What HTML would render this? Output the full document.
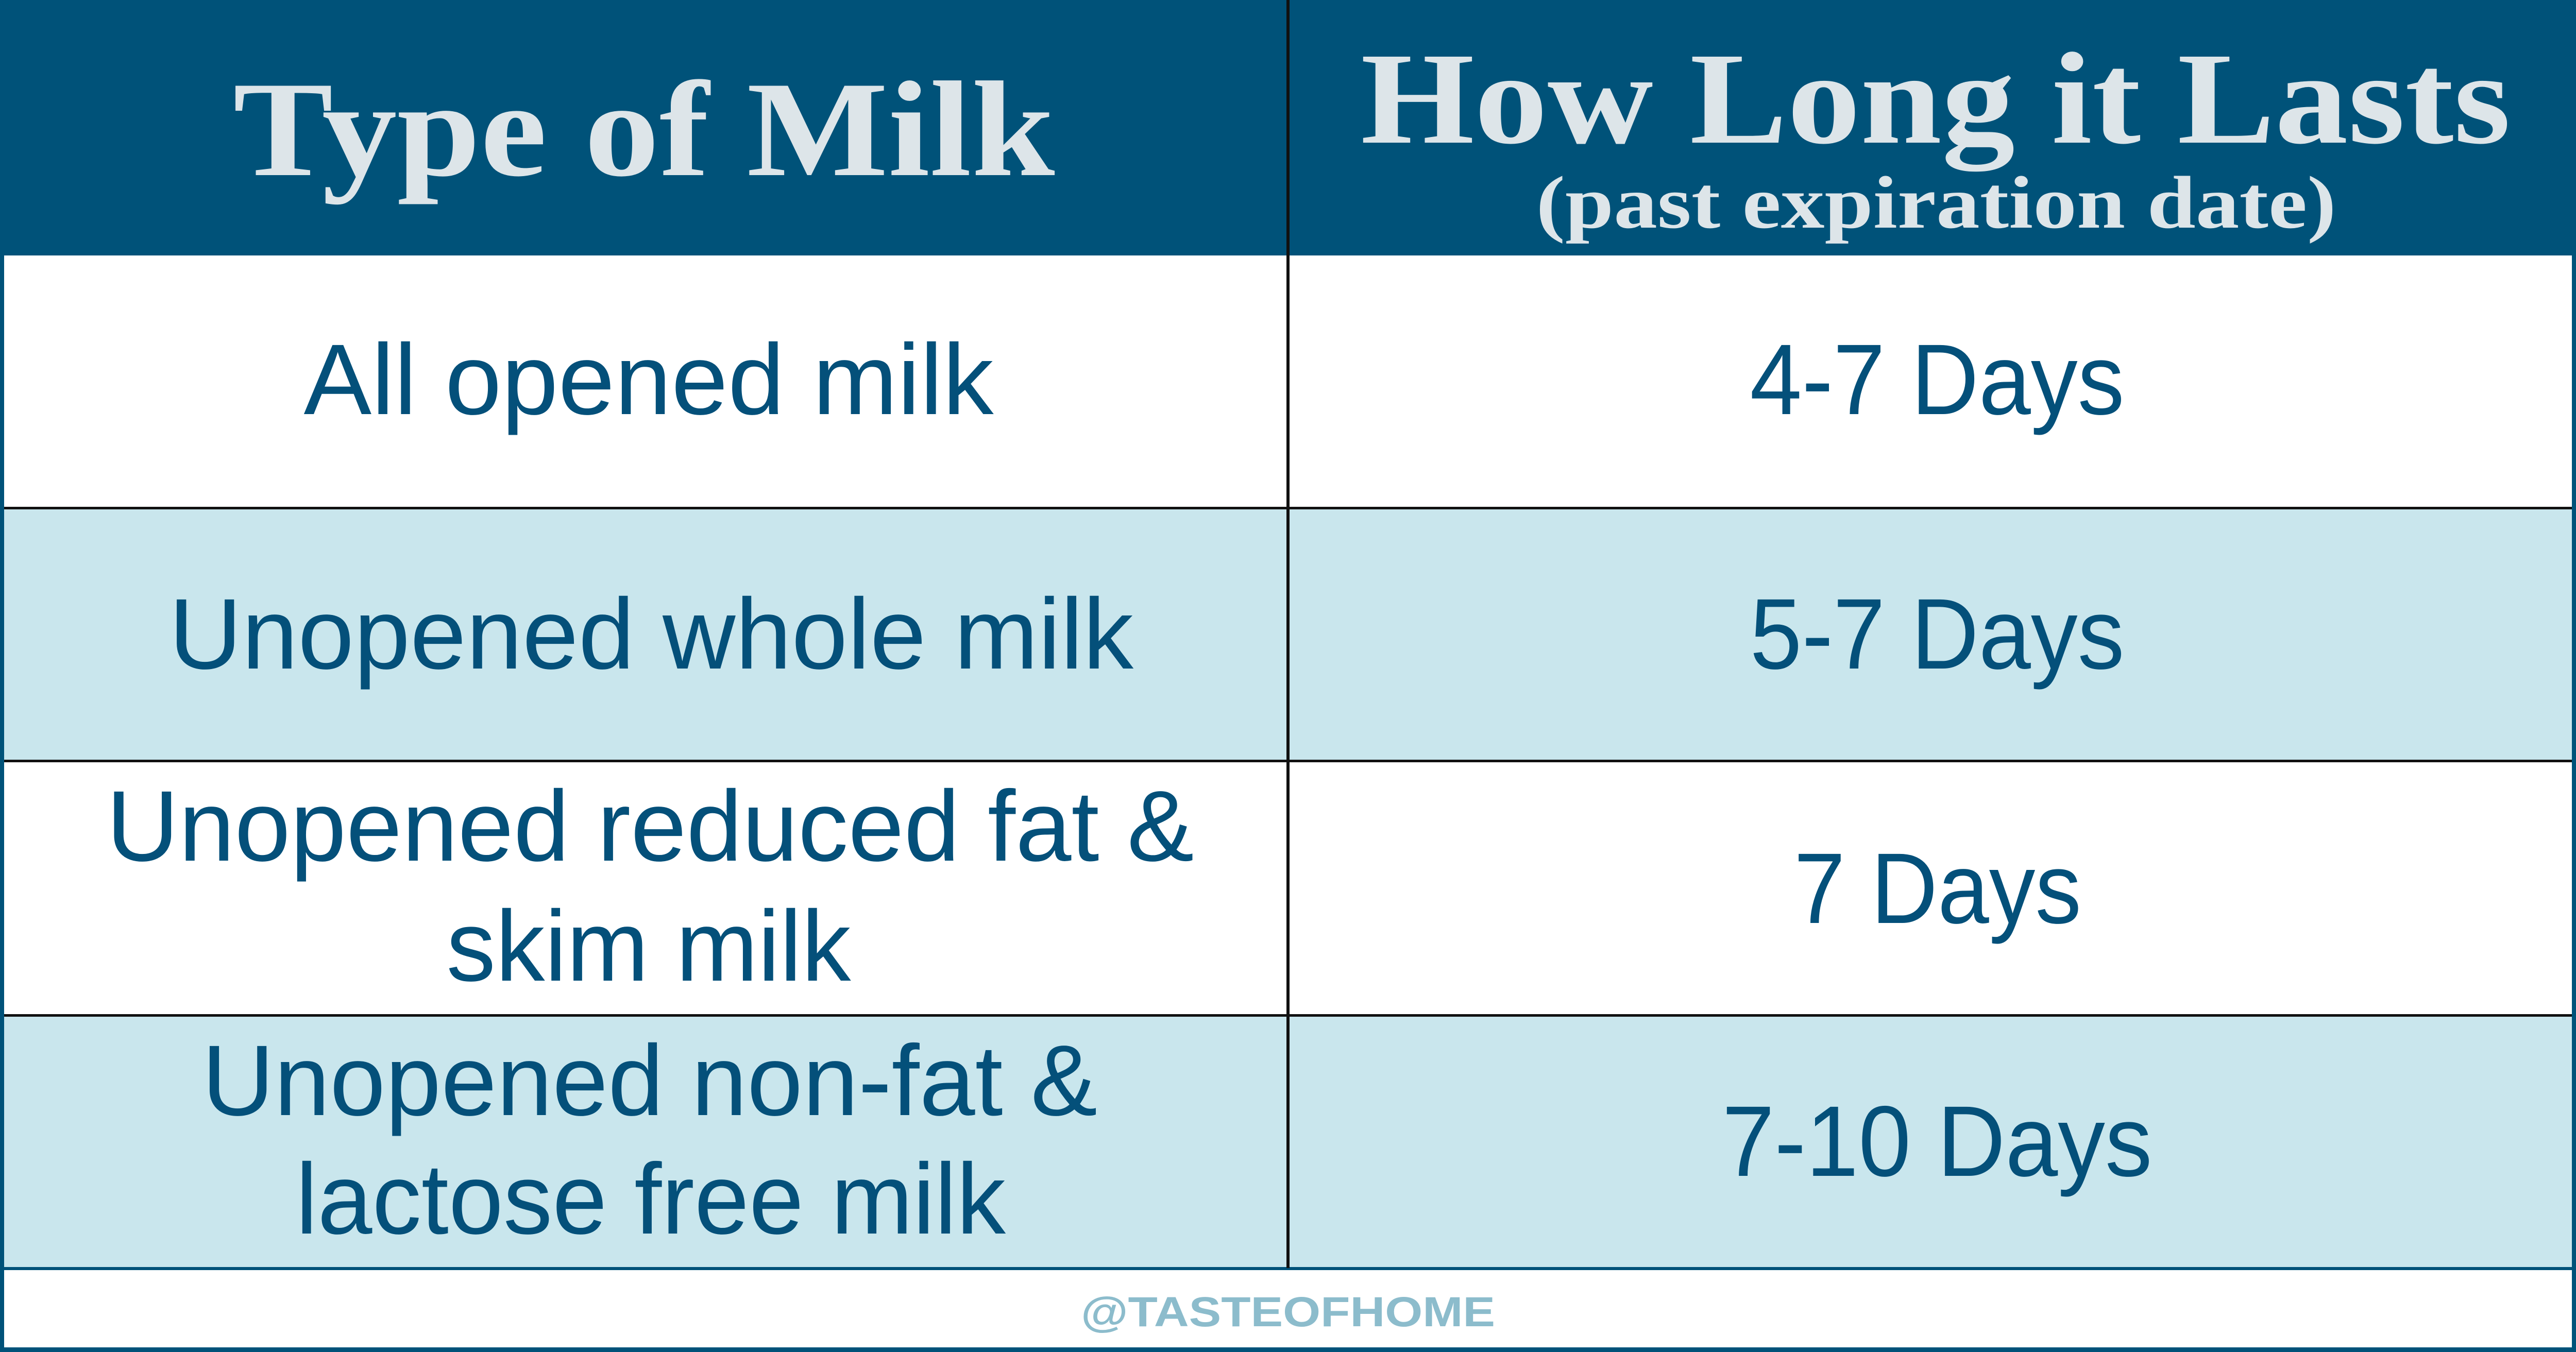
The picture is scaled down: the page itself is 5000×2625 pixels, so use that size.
<!DOCTYPE html>
<html><head><meta charset="utf-8"><style>
html,body{margin:0;padding:0;background:#fff}
svg{display:block}
.b{font-family:"Liberation Sans",sans-serif;fill:#04507a;font-size:195px}
.h{font-family:"Liberation Serif",serif;font-weight:bold;fill:#dde5e9}
</style></head><body>
<svg width="5000" height="2625" viewBox="0 0 5000 2625" xmlns="http://www.w3.org/2000/svg">
<rect x="0" y="0" width="5000" height="2625" fill="#fff"/>
<rect x="0" y="0" width="5000" height="496" fill="#005279"/>
<rect x="0" y="986" width="5000" height="491" fill="#c9e6ed"/>
<rect x="0" y="1971" width="5000" height="491" fill="#c9e6ed"/>
<rect x="0" y="984" width="5000" height="5" fill="#111"/>
<rect x="0" y="1475" width="5000" height="5" fill="#111"/>
<rect x="0" y="1969" width="5000" height="5" fill="#111"/>
<rect x="0" y="2460" width="5000" height="6" fill="#005279"/>
<rect x="2497" y="0" width="6" height="2462" fill="#111"/>
<rect x="0" y="0" width="8" height="2625" fill="#005279"/>
<rect x="4992" y="0" width="8" height="2625" fill="#005279"/>
<rect x="0" y="2616" width="5000" height="9" fill="#005279"/>

<text class="h" x="1250" y="340" text-anchor="middle" font-size="265" textLength="1595" lengthAdjust="spacingAndGlyphs">Type of Milk</text>
<text class="h" x="3757" y="277" text-anchor="middle" font-size="255" textLength="2232" lengthAdjust="spacingAndGlyphs">How Long it Lasts</text>
<text class="h" x="3758" y="442" text-anchor="middle" font-size="145" textLength="1553" lengthAdjust="spacingAndGlyphs">(past expiration date)</text>

<text class="b" x="1259" y="804" text-anchor="middle" textLength="1339" lengthAdjust="spacingAndGlyphs">All opened milk</text>
<text class="b" x="1264" y="1298" text-anchor="middle" textLength="1872" lengthAdjust="spacingAndGlyphs">Unopened whole milk</text>
<text class="b" x="1262" y="1671" text-anchor="middle" textLength="2111" lengthAdjust="spacingAndGlyphs">Unopened reduced fat &amp;</text>
<text class="b" x="1259" y="1904" text-anchor="middle" textLength="785" lengthAdjust="spacingAndGlyphs">skim milk</text>
<text class="b" x="1261" y="2165" text-anchor="middle" textLength="1738" lengthAdjust="spacingAndGlyphs">Unopened non-fat &amp;</text>
<text class="b" x="1263" y="2395" text-anchor="middle" textLength="1378" lengthAdjust="spacingAndGlyphs">lactose free milk</text>

<text class="b" x="3760" y="804" text-anchor="middle" textLength="727" lengthAdjust="spacingAndGlyphs">4-7 Days</text>
<text class="b" x="3760" y="1298" text-anchor="middle" textLength="727" lengthAdjust="spacingAndGlyphs">5-7 Days</text>
<text class="b" x="3761" y="1792" text-anchor="middle" textLength="558" lengthAdjust="spacingAndGlyphs">7 Days</text>
<text class="b" x="3760" y="2283" text-anchor="middle" textLength="835" lengthAdjust="spacingAndGlyphs">7-10 Days</text>

<text x="2500" y="2575" text-anchor="middle" font-family="Liberation Sans,sans-serif" font-weight="bold" font-size="82" fill="#8cbccc" textLength="804" lengthAdjust="spacingAndGlyphs">@TASTEOFHOME</text>
</svg>
</body></html>
